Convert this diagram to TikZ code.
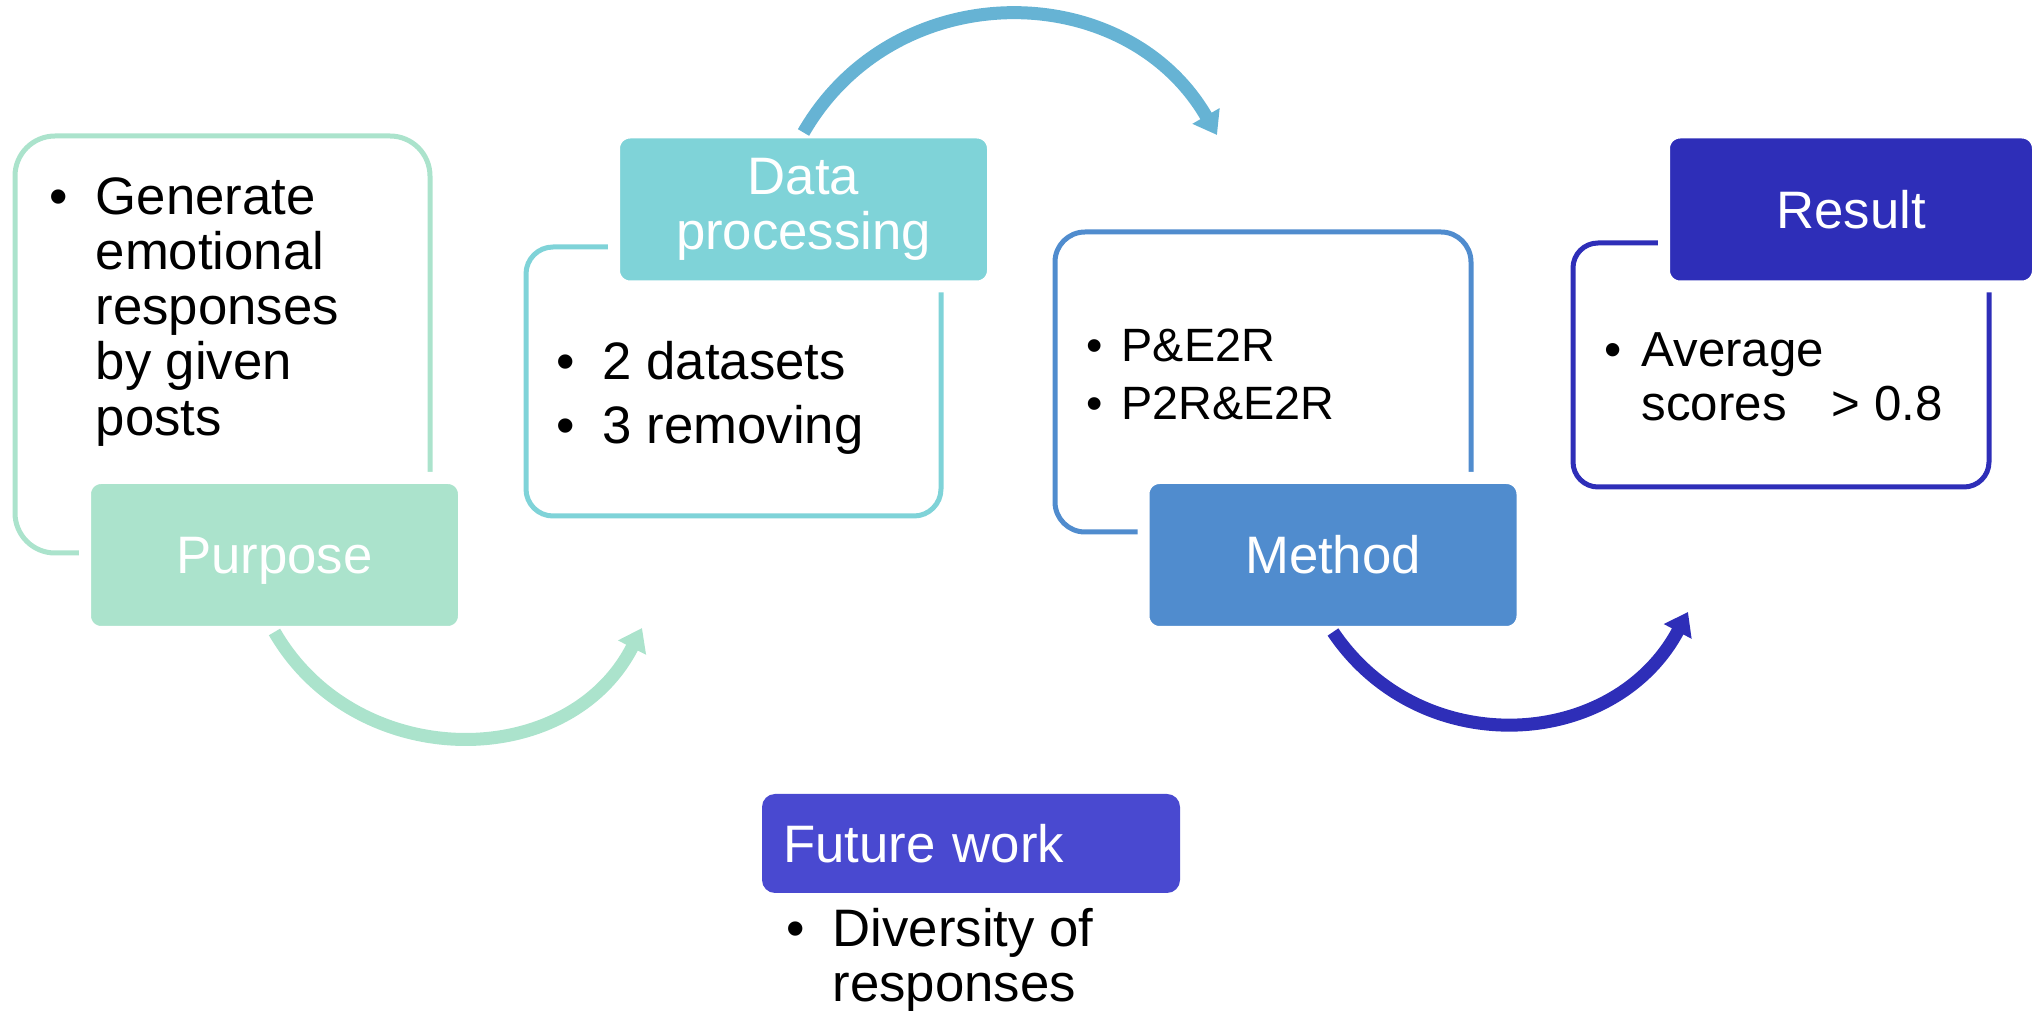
\documentclass[tikz,border=0pt]{standalone}
\usepackage{fontspec}
\setmainfont{Liberation Sans}
\usetikzlibrary{arrows.meta}

\definecolor{mint}{RGB}{171,227,204}
\definecolor{dpteal}{RGB}{127,211,216}
\definecolor{skyarc}{RGB}{102,179,212}
\definecolor{methodblue}{RGB}{80,140,206}
\definecolor{resultnavy}{RGB}{46,46,184}
\definecolor{futureblue}{RGB}{73,73,208}

\newcommand{\blist}[2]{\begin{tabular}[t]{@{}p{#1}@{}l@{}}#2\end{tabular}}

\begin{document}
\begin{tikzpicture}[
  frame/.style={draw=#1, line width=0.05cm, inner sep=0pt},
  headbox/.style={fill=#1, draw=white, line width=0.12cm, rounded corners=0.16cm,
    text=white, inner sep=0pt, outer sep=0pt, align=center,
    minimum width=3.79cm, minimum height=1.54cm, font=\fontsize{15}{15.65}\selectfont},
  items/.style={anchor=base west, inner sep=0pt, font=\fontsize{15}{15.65}\selectfont},
  flow/.style={draw=#1, line width=0.13cm, -{Triangle[width=0.30cm,length=0.22cm]}, looseness=1.13}
]
  \useasboundingbox (0,0) rectangle (20.34,-10.11);

  % frames
  \node[frame=mint, rounded corners=0.40cm, minimum width=4.15cm, minimum height=4.17cm] (purposeframe) at (2.225,-3.445) {};
  \node[frame=dpteal, rounded corners=0.27cm, minimum width=4.15cm, minimum height=2.69cm] (dpframe) at (7.335,-3.815) {};
  \node[frame=methodblue, rounded corners=0.30cm, minimum width=4.16cm, minimum height=3.00cm] (methodframe) at (12.63,-3.82) {};
  \node[frame=resultnavy, rounded corners=0.25cm, minimum width=4.16cm, minimum height=2.44cm] (resultframe) at (17.81,-3.65) {};

  % heads
  \node[headbox=mint, text depth=0pt] (purpose) at (2.745,-5.55) {Purpose};
  \node[headbox=dpteal] (dp) at (8.035,-2.095) {Data\\processing};
  \node[headbox=methodblue] (method) at (13.33,-5.55) {Method};
  \node[headbox=resultnavy, minimum width=3.74cm] (result) at (18.51,-2.095) {Result};
  \node[fill=futureblue, rounded corners=0.13cm, text=white, minimum height=0.99cm,
    text width=3.76cm, align=left, inner xsep=0.21cm, inner ysep=0pt,
    font=\fontsize{15}{15.65}\selectfont] (future) at (9.71,-8.435) {Future work};

  % bullet texts
  \node[items] (purposetext) at (0.49,-2.15) {\blist{0.46cm}{\textbullet & Generate\\ & emotional\\ & responses\\ & by given\\ & posts}};
  \node[items] (dptext) at (5.56,-3.80) {\blist{0.46cm}{\textbullet & 2 datasets\\[0.09cm] \textbullet & 3 removing}};
  \node[items, font=\fontsize{13.3}{16.5}\selectfont] (methodtext) at (10.86,-3.62) {\blist{0.35cm}{\textbullet & P\&E2R\\ \textbullet & P2R\&E2R}};
  \node[items, font=\fontsize{14}{15.1}\selectfont] (resulttext) at (16.04,-3.67) {\blist{0.37cm}{\textbullet & Average\\ & scores\hspace{0.45cm}> 0.8}};
  \node[items] (futuretext) at (7.86,-9.47) {\blist{0.46cm}{\textbullet & Diversity of\\ & responses}};

  % arrows
  \coordinate (gtip) at (6.42,-6.28);
  \coordinate (btip) at (12.17,-1.35);
  \coordinate (ntip) at (16.88,-6.12);
  \draw[flow=mint] (purpose.south) to[out=-60, in=-117] (gtip);
  \draw[flow=skyarc] (dp.north) to[out=60, in=120] (btip);
  \draw[flow=resultnavy] (method.south) to[out=-56, in=-118] (ntip);
\end{tikzpicture}
\end{document}
